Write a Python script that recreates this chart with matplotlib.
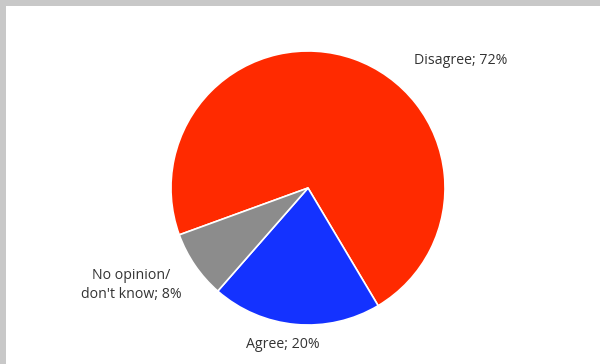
import matplotlib.pyplot as plt
from matplotlib.patches import Rectangle

# slice data
labels = ["Disagree", "Agree", "No opinion/\ndon't know"]
values = [72, 20, 8]
colors = ["#FF2A00", "#1432FF", "#8C8C8C"]


def main():
    fig = plt.figure(figsize=(6, 3.64), dpi=100)
    ax = fig.add_axes([0, 0, 1, 1])

    # pie in pixel coords (y measured from bottom)
    ax.pie(values, colors=colors, startangle=200, counterclock=False,
           center=(308, 176), radius=137,
           wedgeprops=dict(edgecolor="white", linewidth=1.2))
    # pie resets the limits, so set them afterwards
    ax.set_xlim(0, 600)
    ax.set_ylim(0, 364)
    ax.set_aspect("equal")
    ax.axis("off")

    # labels
    font = dict(family=["Open Sans", "DejaVu Sans"], fontsize=10.2, color="#333333")
    ax.text(414, 303, f"{labels[0]}; {values[0]}%", ha="left", va="center", **font)
    ax.text(283, 19, f"{labels[1]}; {values[1]}%", ha="center", va="center", **font)
    ax.text(131, 79, f"{labels[2]}; {values[2]}%", ha="center", va="center",
            linespacing=1.35, **font)

    # grey frame on top and left
    fig.patches.append(Rectangle((0, 1 - 6 / 364), 1, 6 / 364, transform=fig.transFigure,
                                 facecolor="#C8C8C8", edgecolor="none"))
    fig.patches.append(Rectangle((0, 0), 6 / 600, 1, transform=fig.transFigure,
                                 facecolor="#C8C8C8", edgecolor="none"))

    fig.savefig("out.png", dpi=100)


if __name__ == "__main__":
    main()
